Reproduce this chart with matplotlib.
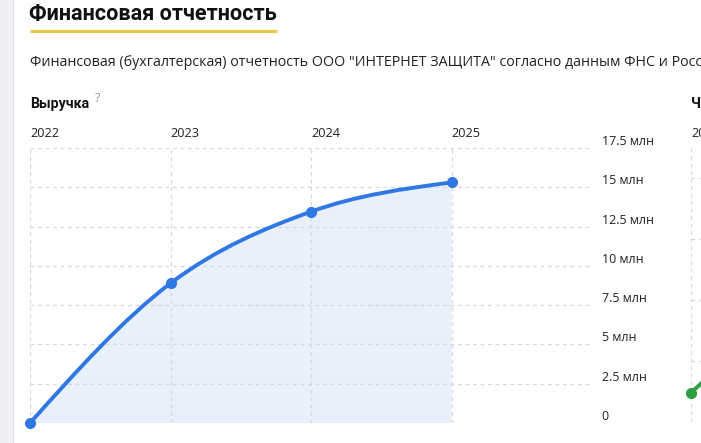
import numpy as np
import matplotlib
matplotlib.use('Agg')
import matplotlib.pyplot as plt
from matplotlib.path import Path
from matplotlib.patches import PathPatch, Rectangle
from matplotlib.lines import Line2D

plt.rcParams['font.family'] = ['Open Sans', 'DejaVu Sans']

# revenue, million rubles
years = [2022, 2023, 2024, 2025]
revenue = [0.0, 8.89, 13.45, 15.31]
y_ticks = [0, 2.5, 5, 7.5, 10, 12.5, 15, 17.5]
y_labels = ['0', '2.5 млн', '5 млн', '7.5 млн', '10 млн', '12.5 млн', '15 млн', '17.5 млн']

# second (net profit) chart, only its left edge is visible
profit_years = [2022, 2023]
profit = [0.48, 2.6]

W, H = 701, 443
BLUE = '#2f78e4'
FILL = '#e8f0fc'
GRID = '#d6d8dc'
BOLD = ['Roboto', 'DejaVu Sans']


def monotone_path(xs, ys, close_to=None):
    # monotone-x cubic curve (same idea as d3.curveMonotoneX)
    xs = np.asarray(xs, float)
    ys = np.asarray(ys, float)
    n = len(xs)
    h = np.diff(xs)
    s = np.diff(ys) / h
    t = np.zeros(n)
    for i in range(1, n - 1):
        p = (s[i - 1] * h[i] + s[i] * h[i - 1]) / (h[i - 1] + h[i])
        t[i] = (np.sign(s[i - 1]) + np.sign(s[i])) * min(abs(s[i - 1]), abs(s[i]), 0.5 * abs(p))
    t[0] = (3 * s[0] - t[1]) / 2 if n > 2 else s[0]
    t[-1] = (3 * s[-1] - t[-2]) / 2 if n > 2 else s[-1]
    verts = [(xs[0], ys[0])]
    codes = [Path.MOVETO]
    for i in range(n - 1):
        dx = h[i] / 3
        verts += [(xs[i] + dx, ys[i] + dx * t[i]),
                  (xs[i + 1] - dx, ys[i + 1] - dx * t[i + 1]),
                  (xs[i + 1], ys[i + 1])]
        codes += [Path.CURVE4] * 3
    if close_to is not None:
        verts += [(xs[-1], close_to), (xs[0], close_to), (xs[0], ys[0])]
        codes += [Path.LINETO, Path.LINETO, Path.CLOSEPOLY]
    return Path(verts, codes)


fig = plt.figure(figsize=(W / 100, H / 100), dpi=100)
fig.patch.set_facecolor('white')

# page chrome on the left
fig.patches.append(Rectangle((0, 0), 13 / W, 1, transform=fig.transFigure,
                             facecolor='#eef0f3', edgecolor='none'))
fig.lines.append(Line2D([13.5 / W, 13.5 / W], [0, 1], transform=fig.transFigure,
                        color='#dcdfe3', lw=0.8))

fig.text(29 / W, 1 - 20 / H, 'Финансовая отчетность', fontsize=15.6, fontweight='bold',
         family=BOLD, color='#111111', va='baseline', ha='left')
fig.lines.append(Line2D([30 / W, 277 / W], [1 - 30.5 / H, 1 - 30.5 / H], transform=fig.transFigure,
                        color='#ebc84a', lw=2.3, solid_capstyle='butt'))
fig.text(30 / W, 1 - 62 / H,
         'Финансовая (бухгалтерская) отчетность ООО "ИНТЕРНЕТ ЗАЩИТА" согласно данным ФНС и Росстата',
         fontsize=10.3, color='#222222', va='center', ha='left')
fig.text(30 / W, 1 - 108 / H, 'Выручка', fontsize=10.2, fontweight='bold',
         family=BOLD, color='#111111', va='baseline', ha='left')
fig.text(95 / W, 1 - 99 / H, '?', fontsize=9, color='#999999', va='center', ha='left')

# main revenue chart
top, bottom, left, right = 148, 423, 30, 592
ax = fig.add_axes([left / W, 1 - bottom / H, (right - left) / W, (bottom - top) / H])
ax.set_xlim(2022, 2026)
ax.set_ylim(0, 17.5)
ax.add_patch(PathPatch(monotone_path(years, revenue, close_to=0), facecolor=FILL,
                       edgecolor='none', zorder=1))
ax.add_patch(PathPatch(monotone_path(years, revenue), facecolor='none', edgecolor=BLUE,
                       lw=2.8, capstyle='round', zorder=3))
ax.plot(years, revenue, 'o', color=BLUE, markersize=7, zorder=4, clip_on=False)

ax.set_xticks(years)
ax.set_xticklabels([str(y) for y in years], ha='left')
ax.set_yticks(y_ticks)
ax.set_yticklabels(y_labels, va='bottom')
ax.xaxis.tick_top()
ax.yaxis.tick_right()
ax.tick_params(axis='x', length=0, pad=6, labelsize=9.2, labelcolor='#222222')
ax.tick_params(axis='y', length=0, pad=7, labelsize=9, labelcolor='#222222')
ax.grid(True, color=GRID, lw=0.9, linestyle=(0, (3, 3)), zorder=0)
for sp in ax.spines.values():
    sp.set_visible(False)
ax.patch.set_alpha(0)

# neighbouring net profit chart (cut off by the page edge)
fig.text(691 / W, 1 - 108 / H, 'Чистая прибыль', fontsize=10.2, fontweight='bold',
         family=BOLD, color='#111111', va='baseline', ha='left')
ax2 = fig.add_axes([691 / W, 1 - 422 / H, 560 / W, (422 - 148) / H])
ax2.set_xlim(2022, 2026)
ax2.set_ylim(0, 4.5)
ax2.plot(profit_years, profit, '-', color='#2ea043', lw=2.8, solid_capstyle='round', zorder=3)
ax2.plot(profit_years[:1], profit[:1], 'o', color='#2ea043', markersize=7, zorder=4, clip_on=False)
ax2.set_xticks(years)
ax2.set_xticklabels([str(y) for y in years], ha='left')
ax2.set_yticks([0, 1, 2, 3, 4])
ax2.set_yticklabels([])
ax2.xaxis.tick_top()
ax2.tick_params(axis='x', length=0, pad=6, labelsize=9.2, labelcolor='#222222')
ax2.tick_params(axis='y', length=0)
ax2.grid(True, color=GRID, lw=0.9, linestyle=(0, (3, 3)), zorder=0)
for sp in ax2.spines.values():
    sp.set_visible(False)
ax2.patch.set_alpha(0)

fig.savefig('out.png', dpi=100)
